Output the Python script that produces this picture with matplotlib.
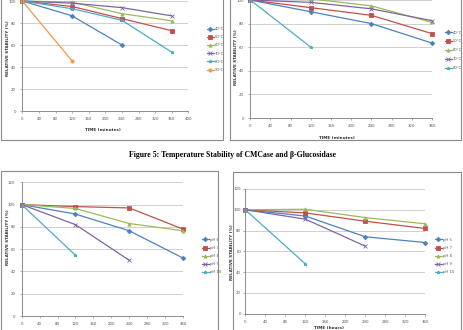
import numpy as np
import matplotlib
matplotlib.use("Agg")
import matplotlib.pyplot as plt
from matplotlib.patches import Rectangle

# data (relative stability %, time points)
t_min = [0, 120, 240, 360]

temp_labels_a = ["40°C", "50°C", "60°C", "70°C", "80°C", "90°C"]
cmc_temp = [
    [100, 86.5, 60],
    [100, 95, 84, 73],
    [100, 99, 88.5, 82],
    [100, 98, 94, 86.5],
    [100, 93, 82.5, 53.5],
    [100, 45.5],
]

temp_labels_b = ["40°C", "50°C", "60°C", "70°C", "80°C"]
glu_temp = [
    [100, 90, 80, 63.5],
    [100, 93.5, 87, 71.5],
    [100, 101, 95, 81],
    [100, 98, 92.5, 82.5],
    [100, 60],
]

ph_labels_a = ["pH 6", "pH 7", "pH 8", "pH 9", "pH 10"]
cmc_ph = [
    [100, 91.5, 76.5, 52],
    [100, 98.2, 97, 78],
    [100, 96.5, 83, 76.5],
    [100, 82, 50],
    [100, 54.5],
]

ph_labels_b = ["pH 5", "pH 7", "pH 8", "pH 9", "pH 10"]
glu_ph = [
    [100, 94, 74, 68.5],
    [100, 97, 89, 82],
    [100, 100.5, 92.5, 86.5],
    [100, 91, 65],
    [100, 48],
]

colors = ["#4F81BD", "#C0504D", "#9BBB59", "#8064A2", "#4BACC6", "#F79646"]
markers = ["D", "s", "^", "x", "*", "o"]

W, H = 464, 330
fig = plt.figure(figsize=(W / 100, H / 100), dpi=100)


def px_axes(x0, x1, ybot, ytop):
    # pixel box -> figure fraction
    return fig.add_axes([x0 / W, 1 - ybot / H, (x1 - x0) / W, (ybot - ytop) / H])


def draw(ax, series, labels, xmax, ytop, leg_x, leg_y, spacing):
    for i, vals in enumerate(series):
        ax.plot(t_min[:len(vals)], vals, color=colors[i], marker=markers[i],
                markersize=2.3, lw=0.9, markeredgewidth=0.6, label=labels[i],
                clip_on=False)
    ax.set_xlim(0, xmax)
    ax.set_ylim(0, 120)
    ax.set_xticks(np.arange(0, xmax + 1, 40))
    ax.set_yticks(np.arange(0, ytop + 1, 20))
    ax.grid(axis="y", color="#d0d0d0", lw=0.7)
    ax.set_axisbelow(True)
    for s in ["top", "right"]:
        ax.spines[s].set_visible(False)
    for s in ["left", "bottom"]:
        ax.spines[s].set_color("#8c8c8c")
        ax.spines[s].set_linewidth(0.7)
    ax.tick_params(labelsize=2.8, colors="#8c8c8c", labelcolor="#555555",
                   length=1.5, width=0.5, pad=3)
    ax.legend(loc="center left", bbox_to_anchor=(leg_x / W, 1 - leg_y / H),
              bbox_transform=fig.transFigure, frameon=False, fontsize=2.7,
              handlelength=1.9, handletextpad=0.3, labelspacing=spacing,
              borderpad=0, labelcolor="#555555")


def labels(ax, xlab, xl_x, xl_y, yl_x, yl_y):
    if xlab:
        ax.set_xlabel(xlab, fontsize=3.0, fontweight="bold", color="#333333")
        ax.xaxis.set_label_coords(xl_x / W, 1 - xl_y / H, transform=fig.transFigure)
    ax.set_ylabel("RELATIVE STABILITY (%)", fontsize=3.0, fontweight="bold",
                  color="#333333")
    ax.yaxis.set_label_coords(yl_x / W, 1 - yl_y / H, transform=fig.transFigure)


# top left: CMCase temperature
ax1 = px_axes(22.3, 188.3, 111, -21)
draw(ax1, cmc_temp, temp_labels_a, 400, 100, 205, 49.5, 1.1)
labels(ax1, "TIME (minutes)", 103, 128, 10, 48)

# top right: beta-glucosidase temperature
ax2 = px_axes(250.3, 432, 118, -23.6)
draw(ax2, glu_temp, temp_labels_b, 360, 100, 443, 50.3, 1.3)
labels(ax2, "TIME (minutes)", 337, 136, 238, 57)

# bottom left: CMCase pH
ax3 = px_axes(21.7, 183, 316, 182.3)
draw(ax3, cmc_ph, ph_labels_a, 360, 120, 200, 256, 1.1)
labels(ax3, None, 0, 0, 10, 237)

# bottom right: beta-glucosidase pH
ax4 = px_axes(245.3, 425.3, 313.7, 189)
draw(ax4, glu_ph, ph_labels_b, 360, 120, 433, 256, 1.1)
ax4.tick_params(axis="y", pad=1.5)
labels(ax4, "TIME (hours)", 329, 325.5, 234, 252)

# panel frames
for x0, y0, x1, y1 in [(1, -5, 223, 140), (230, -5, 461, 140),
                       (1, 171, 218, 340), (233, 172, 461, 340)]:
    fig.add_artist(Rectangle((x0 / W, 1 - y1 / H), (x1 - x0) / W, (y1 - y0) / H,
                             transform=fig.transFigure, fill=False,
                             edgecolor="#8a8a8a", lw=0.8))

fig.text(233 / W, 1 - 155 / H,
         "Figure 5: Temperature Stability of CMCase and β-Glucosidase",
         ha="center", va="center", fontsize=5.6, fontweight="bold",
         family="Liberation Serif")

fig.savefig("out.png", dpi=100)
